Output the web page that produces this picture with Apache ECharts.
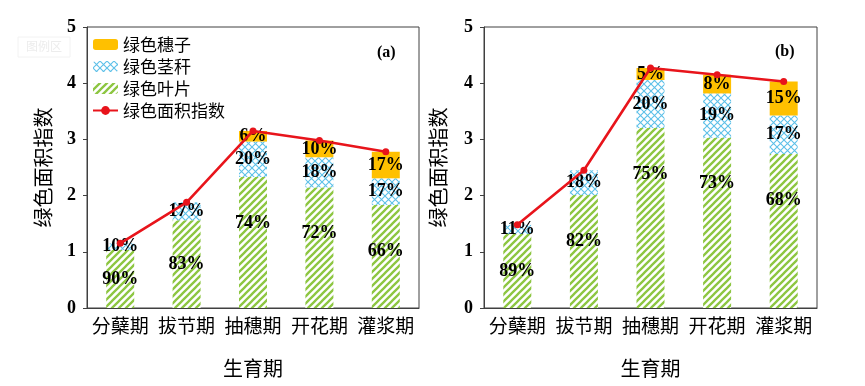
<!DOCTYPE html>
<html><head><meta charset="utf-8">
<script src="https://cdn.jsdelivr.net/npm/echarts@6/dist/echarts.min.js"></script>
<style>html,body{margin:0;padding:0;background:#fff}#c{width:865px;height:386px}</style>
</head><body><div id="c"></div>
<script>
// ---- data ----
const categories = ['分蘖期', '拔节期', '抽穗期', '开花期', '灌浆期'];
const totalA = [1.15, 1.88, 3.15, 2.98, 2.78];
const leafPctA = [90, 83, 74, 72, 66];
const stemPctA = [10, 17, 20, 18, 17];
const earPctA = [0, 0, 6, 10, 17];
const totalB = [1.48, 2.45, 4.27, 4.15, 4.03];
const leafPctB = [89, 82, 75, 73, 68];
const stemPctB = [11, 18, 20, 19, 17];
const earPctB = [0, 0, 5, 8, 15];
const yMin = 0, yMax = 5, yStep = 1;
const seriesNames = ['绿色穗子', '绿色茎秆', '绿色叶片', '绿色面积指数'];
const axisNameY = '绿色面积指数';
const axisNameX = '生育期';
const panelTags = ['(a)', '(b)'];

// ---- patterns ----
function stripePattern() {
  const c = document.createElement('canvas'); c.width = 7; c.height = 7;
  const g = c.getContext('2d');
  g.fillStyle = '#fff'; g.fillRect(0, 0, 7, 7);
  g.strokeStyle = '#8DC641'; g.lineWidth = 2.3;
  g.beginPath();
  g.moveTo(-1, 8); g.lineTo(8, -1);
  g.moveTo(-4, 4); g.lineTo(4, -4);
  g.moveTo(3, 11); g.lineTo(11, 3);
  g.stroke();
  return { image: c, repeat: 'repeat' };
}
function crossPattern() {
  const c = document.createElement('canvas'); c.width = 7; c.height = 7;
  const g = c.getContext('2d');
  g.fillStyle = '#fff'; g.fillRect(0, 0, 7, 7);
  g.strokeStyle = '#5CC0E8'; g.lineWidth = 1.1;
  g.beginPath();
  g.moveTo(-1, 8); g.lineTo(8, -1);
  g.moveTo(-1, -1); g.lineTo(8, 8);
  g.stroke();
  return { image: c, repeat: 'repeat' };
}
const greenFill = stripePattern();
const blueFill = crossPattern();
const orange = '#FFC000';
const red = '#E8141B';
const axisColor = '#404040';
const numFont = '"Liberation Serif", "Times New Roman", serif';
const cjkFont = '"Noto Sans CJK SC", sans-serif';

const gridTop = 27, gridBottom = 78;
const gridH = 386 - gridTop - gridBottom;
const pxPerUnit = gridH / (yMax - yMin);

function segData(total, pct, isLeaf) {
  return total.map((t, i) => {
    const v = t * pct[i] / 100;
    const item = { value: v, pct: pct[i] };
    if (pct[i] === 0) {
      item.label = { show: false };
    } else if (isLeaf) {
      const half = v * pxPerUnit / 2;
      item.label = { position: 'inside', offset: [0, Math.min(0, 46 - half)] };
    }
    return item;
  });
}

const labelStyle = {
  show: true, position: 'inside', color: '#000',
  fontFamily: numFont, fontWeight: 'bold', fontSize: 18,
  formatter: p => p.data.pct + '%'
};

function panel(idx, total, leaf, stem, ear) {
  const st = 'S' + idx;
  return [
    { name: seriesNames[2], type: 'bar', stack: st, xAxisIndex: idx, yAxisIndex: idx,
      barWidth: 28, itemStyle: { color: greenFill }, label: labelStyle,
      data: segData(total, leaf, true) },
    { name: seriesNames[1], type: 'bar', stack: st, xAxisIndex: idx, yAxisIndex: idx,
      barWidth: 28, itemStyle: { color: blueFill }, label: labelStyle,
      data: segData(total, stem, false) },
    { name: seriesNames[0], type: 'bar', stack: st, xAxisIndex: idx, yAxisIndex: idx,
      barWidth: 28, itemStyle: { color: orange }, label: labelStyle,
      data: segData(total, ear, false) },
    { name: seriesNames[3], type: 'line', xAxisIndex: idx, yAxisIndex: idx,
      symbol: 'circle', symbolSize: 7, z: 5,
      itemStyle: { color: red }, lineStyle: { color: red, width: 2.6 },
      data: total }
  ];
}

function xAxis(idx) {
  return {
    type: 'category', gridIndex: idx, data: categories,
    axisLine: { lineStyle: { color: axisColor, width: 1 } },
    axisTick: { show: false },
    axisLabel: { color: '#000', fontFamily: cjkFont, fontSize: 19, margin: 8, interval: 0 },
    name: axisNameX, nameLocation: 'middle', nameGap: 50,
    nameTextStyle: { color: '#000', fontFamily: cjkFont, fontSize: 20 }
  };
}
function yAxis(idx, gap) {
  return {
    type: 'value', gridIndex: idx, min: yMin, max: yMax, interval: yStep,
    axisLine: { show: true, lineStyle: { color: axisColor, width: 1 } },
    axisTick: { show: true, inside: false, length: 4, lineStyle: { color: axisColor } },
    splitLine: { show: false },
    axisLabel: { color: '#000', fontFamily: numFont, fontWeight: 'bold', fontSize: 18, margin: 11 },
    name: axisNameY, nameLocation: 'middle', nameGap: gap, nameRotate: 90,
    nameTextStyle: { color: '#000', fontFamily: cjkFont, fontSize: 20 }
  };
}

const chart = echarts.init(document.getElementById('c'), null, { renderer: 'canvas' });
chart.setOption({
  animation: false,
  backgroundColor: '#fff',
  grid: [
    { left: 87, right: 865 - 419, top: gridTop, bottom: gridBottom, show: true, borderColor: axisColor, borderWidth: 1 },
    { left: 484, right: 865 - 817, top: gridTop, bottom: gridBottom, show: true, borderColor: axisColor, borderWidth: 1 }
  ],
  xAxis: [xAxis(0), xAxis(1)],
  yAxis: [yAxis(0, 34), yAxis(1, 36)],
  legend: {
    data: seriesNames, orient: 'vertical', left: 92, top: 36, padding: 0,
    itemWidth: 25, itemHeight: 11, itemGap: 5,
    textStyle: { color: '#000', fontFamily: cjkFont, fontSize: 17 }
  },
  graphic: [
    { type: 'text', left: 377, top: 45, style: { text: panelTags[0], font: 'bold 16px ' + numFont, fill: '#000' } },
    { type: 'text', left: 775, top: 44, style: { text: panelTags[1], font: 'bold 16px ' + numFont, fill: '#000' } },
    { type: 'rect', shape: { x: 18, y: 37, width: 52, height: 20 }, style: { fill: 'none', stroke: '#f2f2f2', lineWidth: 1 } },
    { type: 'text', left: 26, top: 40, style: { text: '图例区', font: '12px ' + cjkFont, fill: '#ececec' } }
  ],
  series: [].concat(
    panel(0, totalA, leafPctA, stemPctA, earPctA),
    panel(1, totalB, leafPctB, stemPctB, earPctB)
  )
});
</script>
</body></html>
